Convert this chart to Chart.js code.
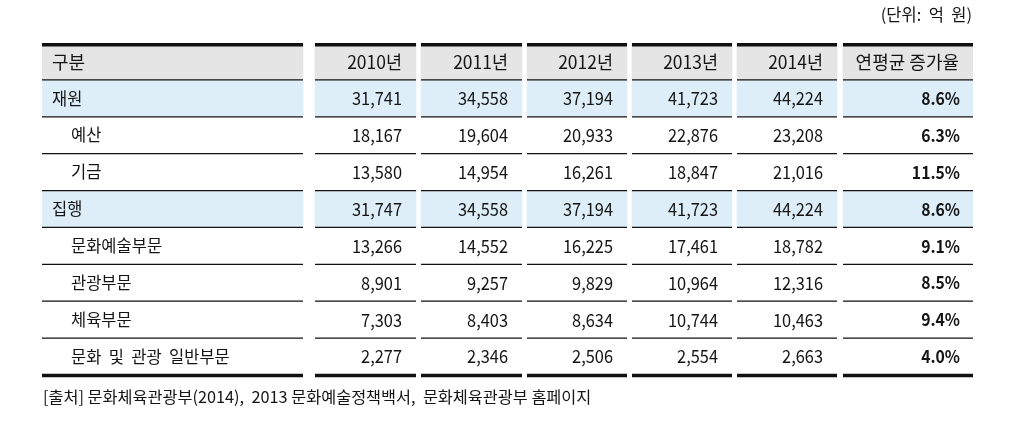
<!DOCTYPE html>
<html><head><meta charset="utf-8">
<script src="https://cdn.jsdelivr.net/npm/chart.js@4.4.1/dist/chart.umd.min.js"></script>
<style>html,body{margin:0;padding:0;background:#fff;}#wrap{width:1031px;height:435px;position:relative;}</style>
</head><body><div id="wrap"><canvas id="c"></canvas></div>
<script>
// ---- data ----
const unitNote = '(단위:  억  원)';
const sourceNote = '[출처] 문화체육관광부(2014),  2013 문화예술정책백서,  문화체육관광부 홈페이지';
const headerLabels = ['구분', '2010년', '2011년', '2012년', '2013년', '2014년', '연평균 증가율'];
const rowLabels = ['재원', '예산', '기금', '집행', '문화예술부문', '관광부문', '체육부문', '문화  및  관광  일반부문'];
const rowLevel = [0, 1, 1, 0, 1, 1, 1, 1];
const v2010 = [31741, 18167, 13580, 31747, 13266, 8901, 7303, 2277];
const v2011 = [34558, 19604, 14954, 34558, 14552, 9257, 8403, 2346];
const v2012 = [37194, 20933, 16261, 37194, 16225, 9829, 8634, 2506];
const v2013 = [41723, 22876, 18847, 41723, 17461, 10964, 10744, 2554];
const v2014 = [44224, 23208, 21016, 44224, 18782, 12316, 10463, 2663];
const cagr = [8.6, 6.3, 11.5, 8.6, 9.1, 8.5, 9.4, 4.0];

// ---- layout / style ----
const COL_WIDTH = [261, 101, 101, 100, 100, 100, 130];
const COL_GAP = [12, 5, 5, 5, 5, 6];
const FONT = "'Noto Sans CJK KR','Noto Sans',sans-serif";
const GRAY = '#e5e5e5', BLUE = '#ddeef9', WHITE = '#ffffff';
const INK = '#141414';

const columns = [rowLabels, v2010, v2011, v2012, v2013, v2014, cagr];
const colStart = [];
let acc = 0;
COL_WIDTH.forEach((w, i) => { colStart.push(acc); acc += w + (COL_GAP[i] || 0); });
const total = acc;
const yLabels = [headerLabels[0]].concat(rowLabels);

function fmt(ci, v) {
  if (ci === 0) return v;
  if (ci === 6) return v.toFixed(1) + '%';
  return v.toLocaleString('en-US');
}

const datasets = columns.map((col, ci) => ({
  label: headerLabels[ci],
  data: yLabels.map(() => [colStart[ci], colStart[ci] + COL_WIDTH[ci]]),
  backgroundColor: yLabels.map((_, ri) => ri === 0 ? GRAY : (rowLevel[ri - 1] === 0 ? BLUE : WHITE)),
  cellText: yLabels.map((_, ri) => ri === 0 ? headerLabels[ci] : fmt(ci, col[ri - 1])),
  borderWidth: 0,
  categoryPercentage: 1,
  barPercentage: 1,
  grouped: false
}));

function drawScaled(ctx, txt, x, y, sx, align) {
  ctx.save();
  ctx.translate(x, y);
  ctx.scale(sx, 1);
  ctx.textAlign = align;
  ctx.fillText(txt, 0, 0);
  ctx.restore();
}

const tablePlugin = {
  id: 'tableText',
  afterDatasetsDraw(chart) {
    const ctx = chart.ctx;
    const last = yLabels.length - 1;
    ctx.save();
    chart.data.datasets.forEach((ds, ci) => {
      const meta = chart.getDatasetMeta(ci);
      meta.data.forEach((bar, ri) => {
        const p = bar.getProps(['x', 'y', 'base', 'height'], true);
        const x0 = Math.min(p.x, p.base), x1 = Math.max(p.x, p.base);
        const top = p.y - p.height / 2, bot = p.y + p.height / 2;
        ctx.strokeStyle = '#111';
        if (ri === 0) {
          ctx.lineWidth = 3.6;
          ctx.beginPath(); ctx.moveTo(x0, top + 1.8); ctx.lineTo(x1, top + 1.8); ctx.stroke();
        }
        if (ri === last) {
          ctx.lineWidth = 3.4;
          ctx.beginPath(); ctx.moveTo(x0, bot + 0.5); ctx.lineTo(x1, bot + 0.5); ctx.stroke();
        } else {
          ctx.lineWidth = 1.3;
          ctx.beginPath(); ctx.moveTo(x0, bot); ctx.lineTo(x1, bot); ctx.stroke();
        }
        // text
        const txt = ds.cellText[ri];
        ctx.fillStyle = INK;
        ctx.textBaseline = 'middle';
        if (ri === 0) {
          ctx.font = '18px ' + FONT;
          const ty = p.y + 1;
          if (ci === 0) drawScaled(ctx, txt, x0 + 10, ty, 1, 'left');
          else drawScaled(ctx, txt, x1 - 14, ty, ci === 6 ? 1 : 0.97, 'right');
        } else if (ci === 0) {
          ctx.font = '16.5px ' + FONT;
          const indent = rowLevel[ri - 1] === 0 ? 10 : 29;
          drawScaled(ctx, txt, x0 + indent, p.y, 1, 'left');
        } else if (ci === 6) {
          ctx.font = 'bold 17.5px ' + FONT;
          drawScaled(ctx, txt, x1 - 13, p.y, 0.9, 'right');
        } else {
          ctx.font = '18px ' + FONT;
          drawScaled(ctx, txt, x1 - 14, p.y, 0.91, 'right');
        }
      });
    });
    const area = chart.chartArea;
    ctx.font = '16.5px ' + FONT;
    ctx.fillStyle = INK;
    ctx.textBaseline = 'middle';
    ctx.textAlign = 'right';
    ctx.fillText(unitNote, area.right - 1, 15);
    ctx.textAlign = 'left';
    ctx.font = '16.3px ' + FONT;
    ctx.fillText(sourceNote, area.left + 1, 397);
    ctx.restore();
  }
};

new Chart(document.getElementById('c'), {
  type: 'bar',
  data: { labels: yLabels, datasets },
  options: {
    indexAxis: 'y',
    responsive: true,
    maintainAspectRatio: false,
    animation: false,
    layout: { padding: { left: 42, right: 1031 - 42 - total, top: 43, bottom: 60 } },
    plugins: { legend: { display: false }, tooltip: { enabled: false }, title: { display: false } },
    scales: {
      x: { type: 'linear', min: 0, max: total, display: false },
      y: { type: 'category', display: false, offset: true }
    }
  },
  plugins: [tablePlugin]
});
</script>
</body></html>
